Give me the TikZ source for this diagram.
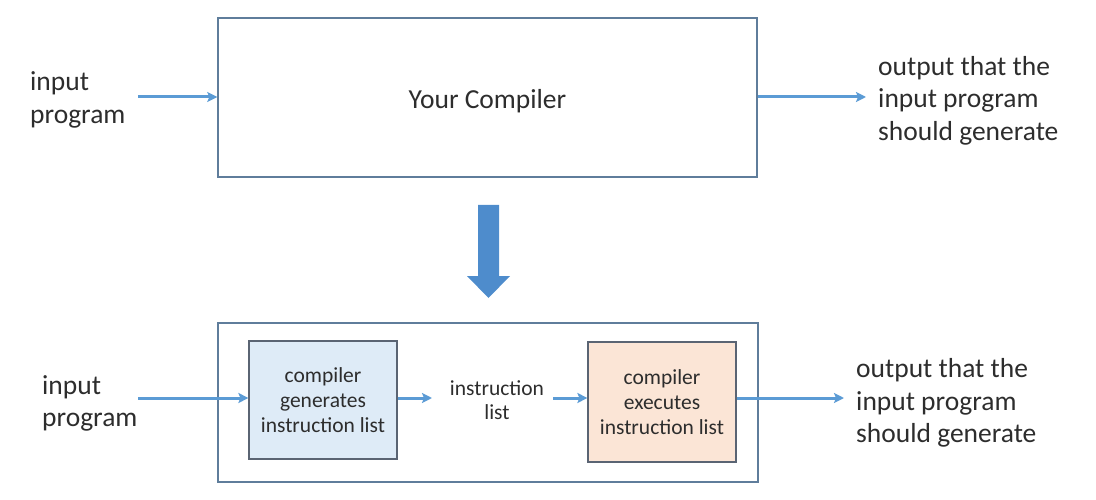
\documentclass[tikz,border=0pt]{standalone}
\usepackage{fontspec}
\setmainfont{Carlito}
\usetikzlibrary{arrows.meta}
\definecolor{arrowblue}{RGB}{91,155,213}
\definecolor{bigblue}{RGB}{78,140,204}
\definecolor{boxline}{RGB}{95,125,155}
\definecolor{innerline}{RGB}{90,100,115}
\definecolor{bluefill}{RGB}{222,235,247}
\definecolor{orangefill}{RGB}{251,229,214}
\definecolor{txt}{RGB}{45,45,45}
\tikzset{
  bigtext/.style={text=txt,font=\fontsize{27.5}{32.5}\selectfont,align=left,inner sep=0pt},
  smalltext/.style={text=txt,font=\fontsize{21.5}{24.7}\selectfont,align=center,inner sep=0pt},
  outerbox/.style={draw=boxline,line width=1.4pt,inner sep=0pt},
  innerbox/.style={draw=innerline,line width=1.2pt,inner sep=0pt},
  conn/.style={draw=arrowblue,line width=3pt,-{Stealth[length=10pt,width=10pt,inset=2pt]}},
}
\begin{document}
\begin{tikzpicture}[x=1pt,y=-1pt]
\useasboundingbox (0,0) rectangle (1096,500);
% top part
\node[outerbox,minimum width=539pt,minimum height=159pt] (comp) at (487.5,97.5) {};
\node[bigtext] (comptext) at (487.5,101) {Your Compiler};
\node[bigtext,anchor=west] (in1) at (30,100) {input\\program};
\node[bigtext,anchor=west] (out1) at (878,100.5) {output that the\\input program\\should generate};
\coordinate (in1e) at (138,97);
\coordinate (out1e) at (866,97);
\draw[conn] (in1e) -- (comp.west |- in1e);
\draw[conn] (comp.east |- out1e) -- (out1e);
% big arrow
\fill[bigblue] (478,205) -- (499,205) -- (499,276) -- (510,276) -- (488.5,298)
  -- (467,276) -- (478,276) -- cycle;
% bottom part
\node[outerbox,minimum width=540pt,minimum height=159pt] (sys) at (488,402.5) {};
\node[innerbox,fill=bluefill,minimum width=148pt,minimum height=118pt] (gen) at (323,400) {};
\node[smalltext] at (gen.center) {compiler\\generates\\instruction list};
\node[innerbox,fill=orangefill,minimum width=148pt,minimum height=120pt] (exe) at (662,402) {};
\node[smalltext] at (exe.center) {compiler\\executes\\instruction list};
\node[smalltext] (ilist) at (497,400) {instruction\\list};
\node[bigtext,anchor=west] (in2) at (42,403.5) {input\\program};
\node[bigtext,anchor=west] (out2) at (856,403) {output that the\\input program\\should generate};
\coordinate (in2e) at (138,398);
\coordinate (out2e) at (844,398);
\coordinate (ga) at (432,398);
\coordinate (ea) at (553,398);
\draw[conn] (in2e) -- (gen.west |- in2e);
\draw[conn] (gen.east |- ga) -- (ga);
\draw[conn] (ea) -- (exe.west |- ea);
\draw[conn] (exe.east |- out2e) -- (out2e);
\end{tikzpicture}
\end{document}
